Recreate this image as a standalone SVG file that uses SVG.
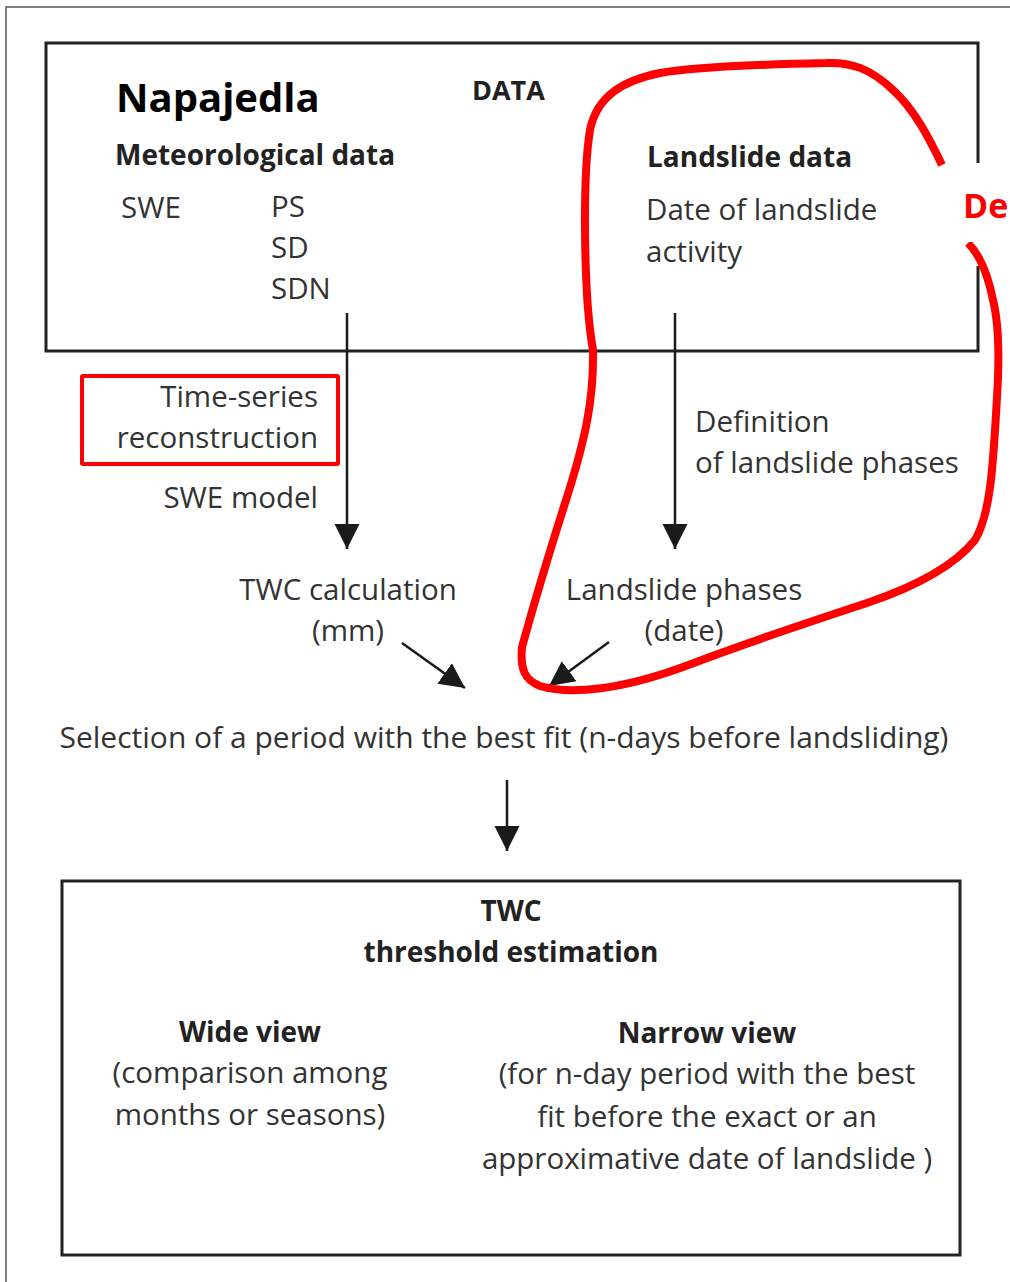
<svg xmlns="http://www.w3.org/2000/svg" width="1010" height="1282" viewBox="0 0 1010 1282">
<style>
text{font-family:"Open Sans","Noto Sans","Liberation Sans",sans-serif;fill:#333;font-size:29.5px}
.b{font-weight:bold;fill:#222;font-size:28px}
.c{text-anchor:middle}
.r{text-anchor:end}
.box{fill:none;stroke:#222;stroke-width:3}
.ln{stroke:#1a1a1a;stroke-width:2.5;fill:none}
</style>
<defs>
<marker id="ah2" viewBox="0 0 10 10" refX="10" refY="5" markerWidth="25" markerHeight="26" markerUnits="userSpaceOnUse" orient="auto">
<path d="M0,0 L10,5 L0,10 z" fill="#1a1a1a"/>
</marker>
</defs>
<rect width="1010" height="1282" fill="#fff"/>
<path d="M6,1282 V7 H1010" fill="none" stroke="#555" stroke-width="1.5"/>

<g id="data-box">
<path class="box" d="M978,163 V43 H46 V351 H978 V266"/>
<text x="116" y="112" class="b" style="font-size:40px;fill:#000">Napajedla</text>
<text x="472" y="100" class="b" style="font-size:27px">DATA</text>
</g>
<g id="meteo">
<text x="115" y="165" class="b">Meteorological data</text>
<text x="121" y="218">SWE</text>
<text x="271" y="217">PS</text>
<text x="271" y="258">SD</text>
<text x="271" y="299">SDN</text>
</g>
<g id="landslide-data">
<text x="647" y="167" class="b">Landslide data</text>
<text x="646" y="220">Date of landslide</text>
<text x="646" y="262">activity</text>
</g>
<g id="time-series">
<rect x="82" y="376" width="256" height="88" fill="none" stroke="#f00" stroke-width="4" rx="1"/>
<text x="318" y="407" class="r">Time-series</text>
<text x="318" y="448" class="r">reconstruction</text>
</g>
<g id="swe-model"><text x="318" y="508" class="r">SWE model</text></g>
<g id="definition">
<text x="695" y="432">Definition</text>
<text x="695" y="473">of landslide phases</text>
</g>
<g id="twc-calc">
<text x="348" y="600" class="c">TWC calculation</text>
<text x="348" y="641" class="c">(mm)</text>
</g>
<g id="landslide-phases">
<text x="684" y="600" class="c">Landslide phases</text>
<text x="684" y="641" class="c">(date)</text>
</g>
<g id="selection">
<text x="504" y="748" class="c" style="font-size:30px">Selection of a period with the best fit (n-days before landsliding)</text>
</g>
<g id="threshold-box">
<rect class="box" x="62" y="881" width="898" height="374"/>
<text x="511" y="921" class="b c">TWC</text>
<text x="511" y="962" class="b c">threshold estimation</text>
<text x="250" y="1042" class="b c">Wide view</text>
<text x="250" y="1083" class="c">(comparison among</text>
<text x="250" y="1125" class="c">months or seasons)</text>
<text x="707" y="1043" class="b c">Narrow view</text>
<text x="707" y="1084" class="c">(for n-day period with the best</text>
<text x="707" y="1127" class="c">fit before the exact or an</text>
<text x="707" y="1169" class="c">approximative date of landslide )</text>
</g>
<g id="connectors">
<line class="ln" x1="347" y1="313" x2="347" y2="549" marker-end="url(#ah2)"/>
<line class="ln" x1="675" y1="313" x2="675" y2="549" marker-end="url(#ah2)"/>
<line class="ln" x1="402" y1="643" x2="465" y2="688" marker-end="url(#ah2)"/>
<line class="ln" x1="609" y1="642" x2="549" y2="686" marker-end="url(#ah2)"/>
<line class="ln" x1="507" y1="780" x2="507" y2="851" marker-end="url(#ah2)"/>
</g>
<g id="highlight">
<path d="M942,165 C930,140 915,110 893,90 C870,68 850,62 827,63 C780,64 700,66 660,73 C625,80 597,95 590,130 C582,180 584,300 593,350 C594,400 585,440 567,497 C550,550 535,600 522,647 C520,670 525,680 540,686 C570,695 620,690 683,667 C740,645 800,625 867,603 C920,585 955,565 975,540 C990,515 993,470 997,397 C1000,350 998,320 993,300 C988,275 980,255 968,243" fill="none" stroke="#f00" stroke-width="8" stroke-linecap="butt"/>
<rect x="942" y="183" width="68" height="59" fill="#fff"/>
<text x="963" y="218" class="b" style="font-size:34px;fill:#f00">De</text>
</g>
</svg>
